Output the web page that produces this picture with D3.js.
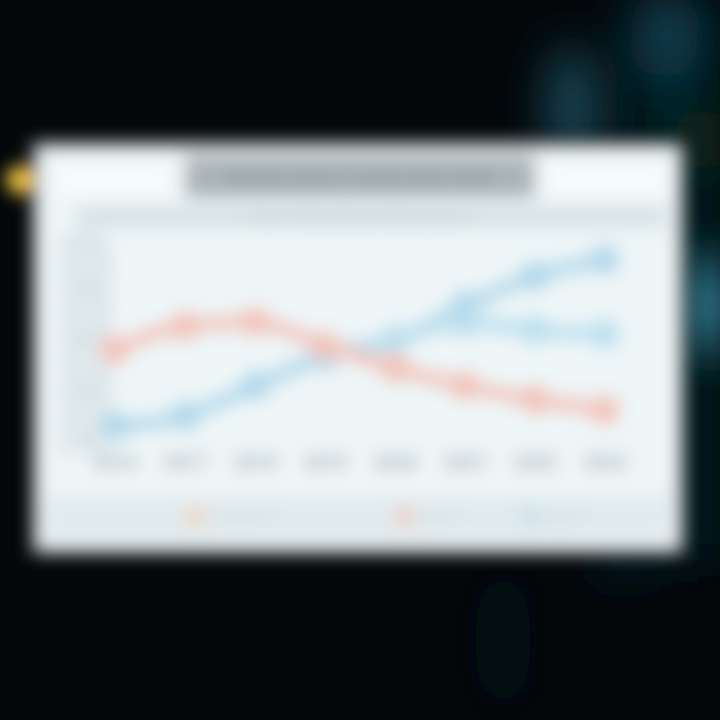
<!DOCTYPE html>
<html><head><meta charset="utf-8">
<script src="https://cdn.jsdelivr.net/npm/d3@7"></script>
<style>html,body{margin:0;padding:0;background:#03070a;}svg{display:block;}</style>
</head><body>
<script>
const categories = ["2016","2017","2018","2019","2020","2021","2022","2023"];
const seriesNames = ["Traditional","Digital","Hybrid"];
const redValues = [45, 57, 59, 47, 36, 27, 20, 15];
const blueValues = [7, 12, 27, 42, 50, 67, 82, 90];
const blue2Values = [null, null, null, null, 50, 59, 55, 53];
const yTicks = [0, 25, 50, 75, 100];

const W = 720, H = 720;
const svg = d3.select("body").append("svg").attr("width", W).attr("height", H);
const defs = svg.append("defs");
defs.append("filter").attr("id","blur").attr("x","-10%").attr("y","-10%").attr("width","120%").attr("height","120%")
  .append("feGaussianBlur").attr("stdDeviation", 8.5);
defs.append("filter").attr("id","bigblur").attr("filterUnits","userSpaceOnUse").attr("x",-200).attr("y",-200).attr("width",1120).attr("height",1120)
  .append("feGaussianBlur").attr("stdDeviation", 24);

svg.append("rect").attr("width",W).attr("height",H).attr("fill","#03070a");
// background glows
const bg = svg.append("g").attr("filter","url(#bigblur)");
bg.append("rect").attr("x",630).attr("y",0).attr("width",90).attr("height",560).attr("fill","#061a22");
bg.append("ellipse").attr("cx",572).attr("cy",110).attr("rx",22).attr("ry",65).attr("fill","#1a5468");
bg.append("ellipse").attr("cx",665).attr("cy",35).attr("rx",35).attr("ry",45).attr("fill","#113e4e");
bg.append("ellipse").attr("cx",712).attr("cy",305).attr("rx",18).attr("ry",38).attr("fill","#3d9ab2");
bg.append("ellipse").attr("cx",705).attr("cy",140).attr("rx",18).attr("ry",30).attr("fill","#14321f");
bg.append("ellipse").attr("cx",503).attr("cy",640).attr("rx",14).attr("ry",70).attr("fill","#07151a");
bg.append("ellipse").attr("cx",620).attr("cy",560).attr("rx",25).attr("ry",15).attr("fill","#0c2630");

const g = svg.append("g").attr("filter","url(#blur)");
// panel shadow and panel
g.append("rect").attr("x",28).attr("y",138).attr("width",660).attr("height",420).attr("fill","#2a3236");
g.append("rect").attr("x",38).attr("y",148).attr("width",640).attr("height",400).attr("fill","#eef6f8");
// yellow tab
g.append("circle").attr("cx",20).attr("cy",180).attr("r",14).attr("fill","#f4c640");
// header area
g.append("rect").attr("x",55).attr("y",163).attr("width",115).attr("height",32).attr("fill","#f6fbfc");
g.append("rect").attr("x",548).attr("y",163).attr("width",118).attr("height",32).attr("fill","#f6fbfc");
g.append("rect").attr("x",185).attr("y",156).attr("width",350).attr("height",42).attr("fill","#aab3b7");
g.append("text").attr("x",360).attr("y",183).attr("text-anchor","middle").attr("font-family","Open Sans, sans-serif")
  .attr("font-size",17).attr("font-weight",700).attr("fill","#8a9498").text("Market Share Trends 2016–2023");
// subtitle band
g.append("rect").attr("x",75).attr("y",206).attr("width",590).attr("height",22).attr("fill","#d8e2e5");
g.append("text").attr("x",360).attr("y",222).attr("text-anchor","middle").attr("font-family","Open Sans, sans-serif")
  .attr("font-size",12).attr("fill","#b0babe").text("Share of total sales by channel, percent");

const x = d3.scalePoint().domain(categories).range([115, 605]);
const y = d3.scaleLinear().domain([0, 100]).range([440, 240]);

// y axis strip
g.append("rect").attr("x",58).attr("y",235).attr("width",48).attr("height",220).attr("fill","#e0e9ec");
const yAxis = g.append("g").attr("transform","translate(106,0)")
  .call(d3.axisLeft(y).tickValues(yTicks).tickSize(0).tickFormat(d => d + "%"));
yAxis.select(".domain").attr("stroke","#d4dde0").attr("stroke-width",6);
yAxis.selectAll("text").attr("font-family","Open Sans, sans-serif").attr("font-size",12).attr("fill","#b3bcc0").attr("dx",-6);

// gridlines
g.append("g").selectAll("line").data(yTicks).join("line")
  .attr("x1",110).attr("x2",640).attr("y1",d=>y(d)).attr("y2",d=>y(d))
  .attr("stroke","#e6eef1").attr("stroke-width",2);

// x axis labels
const xAxis = g.append("g").attr("transform","translate(0,452)")
  .call(d3.axisBottom(x).tickSize(0));
xAxis.select(".domain").remove();
xAxis.selectAll("text").attr("font-family","Open Sans, sans-serif").attr("font-size",19).attr("font-weight",800).attr("fill","#a9b3b7");

const line = d3.line().defined(d => d != null).x((d,i) => x(categories[i])).y(d => y(d)).curve(d3.curveMonotoneX);
const series = [
  {name: seriesNames[1], values: blueValues, color: "#b0d8ea"},
  {name: seriesNames[2], values: blue2Values, color: "#badfee"},
  {name: seriesNames[0], values: redValues, color: "#f3c3b9"}
];
series.forEach(s => {
  g.append("path").datum(s.values).attr("d", line).attr("fill","none").attr("stroke", s.color).attr("stroke-width",14).attr("stroke-linecap","round");
  g.append("g").selectAll("circle").data(s.values.map((v,i)=>({v,i})).filter(d=>d.v!=null)).join("circle")
    .attr("cx", d => x(categories[d.i])).attr("cy", d => y(d.v)).attr("r", 15).attr("fill", s.color);
});

// legend
g.append("rect").attr("x",48).attr("y",496).attr("width",620).attr("height",42).attr("fill","#e1eaed");
const legendItems = [
  {name: seriesNames[0], color: "#f3d2b8", lx: 195},
  {name: seriesNames[2], color: "#f0c8c0", lx: 405},
  {name: seriesNames[1], color: "#c4e0ec", lx: 530}
];
const lg = g.append("g").selectAll("g").data(legendItems).join("g").attr("transform", d => `translate(${d.lx},517)`);
lg.append("rect").attr("x",-7).attr("y",-10).attr("width",14).attr("height",20).attr("fill", d => d.color);
lg.append("text").attr("x",14).attr("y",5).attr("font-family","Open Sans, sans-serif").attr("font-size",13).attr("fill","#c8d0d4").text(d => d.name);
</script>
</body></html>
